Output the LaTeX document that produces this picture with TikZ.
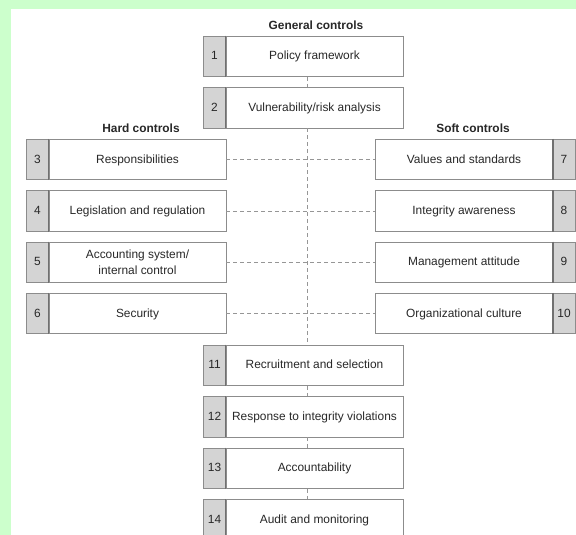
\documentclass[tikz,border=0pt]{standalone}
\usepackage{fontspec}
\setmainfont{Liberation Sans}
\definecolor{bggreen}{RGB}{204,255,204}
\definecolor{boxline}{RGB}{140,140,140}
\definecolor{cellfill}{RGB}{212,212,212}
\definecolor{dashcol}{RGB}{150,150,150}
\definecolor{txt}{RGB}{40,40,40}
\begin{document}
\begin{tikzpicture}[x=1pt,y=-1pt,
  every node/.style={font=\fontsize{11.9}{15.3}\selectfont, text=txt, inner sep=0pt},
  labbase/.style={draw=boxline, line width=0.9pt, fill=white, minimum width=177pt, minimum height=40.5pt, align=center},
  lab/.style={labbase, text height=8.6pt, text depth=1.6pt},
  num/.style={draw=boxline, line width=0.9pt, fill=cellfill, minimum width=23pt, minimum height=40.5pt, text height=8.6pt, text depth=1.6pt},
  sepline/.style={draw=boxline!80!black, line width=1.8pt},
  conn/.style={draw=dashcol, line width=0.8pt, dash pattern=on 4pt off 3pt},
  head/.style={font=\fontsize{11.9}{14}\selectfont\bfseries}
]
\useasboundingbox (0,0) rectangle (576,535);
\clip (0,0) rectangle (576,535);
\fill[bggreen] (0,0) rectangle (576,535);
\fill[white] (11,9) rectangle (576,535);

% headings
\node[head] (hgen) at (316,25) {General controls};
\node[head] (hhard) at (141,128) {Hard controls};
\node[head] (hsoft) at (473,128) {Soft controls};

% central column
\coordinate (vx) at (307,0);
\foreach \n/\y/\t in {1/56.25/{Policy framework}, 2/107.75/{Vulnerability/risk analysis}, 11/365.25/{Recruitment and selection}, 12/416.75/{Response to integrity violations}, 13/468.25/{Accountability}, 14/519.75/{Audit and monitoring}}{
  \node[num] (n\n) at (214.5,\y) {\n};
  \node[lab] (b\n) at (314.5,\y) {\t};
}

% left column
\node[num] (n3) at (37.5,159.5) {3};
\node[lab] (b3) at (137.5,159.5) {Responsibilities};
\node[num] (n4) at (37.5,211) {4};
\node[lab] (b4) at (137.5,211) {Legislation and regulation};
\node[num] (n5) at (37.5,262.25) {5};
\node[labbase] (b5) at (137.5,262.25) {Accounting system/\\internal control};
\node[num] (n6) at (37.5,313.5) {6};
\node[lab] (b6) at (137.5,313.5) {Security};

% right column
\node[lab] (b7) at (464,159.5) {Values and standards};
\node[num] (n7) at (564,159.5) {7};
\node[lab] (b8) at (464,211) {Integrity awareness};
\node[num] (n8) at (564,211) {8};
\node[lab] (b9) at (464,262.25) {Management attitude};
\node[num] (n9) at (564,262.25) {9};
\node[lab] (b10) at (464,313.5) {Organizational culture};
\node[num] (n10) at (564,313.5) {10};

% separators
\foreach \n in {1,2,3,4,5,6,11,12,13,14}{
  \draw[sepline] (b\n.north west) -- (b\n.south west);
}
\foreach \n in {7,8,9,10}{
  \draw[sepline] (b\n.north east) -- (b\n.south east);
}

% connectors
\draw[conn] (b1.south -| vx) -- (b2.north -| vx);
\draw[conn] (b2.south -| vx) -- (b11.north -| vx);
\draw[conn] (b11.south -| vx) -- (b12.north -| vx);
\draw[conn] (b12.south -| vx) -- (b13.north -| vx);
\draw[conn] (b13.south -| vx) -- (b14.north -| vx);
\draw[conn] (b3.east) -- (b7.west);
\draw[conn] (b4.east) -- (b8.west);
\draw[conn] (b5.east) -- (b9.west);
\draw[conn] (b6.east) -- (b10.west);
\end{tikzpicture}
\end{document}
